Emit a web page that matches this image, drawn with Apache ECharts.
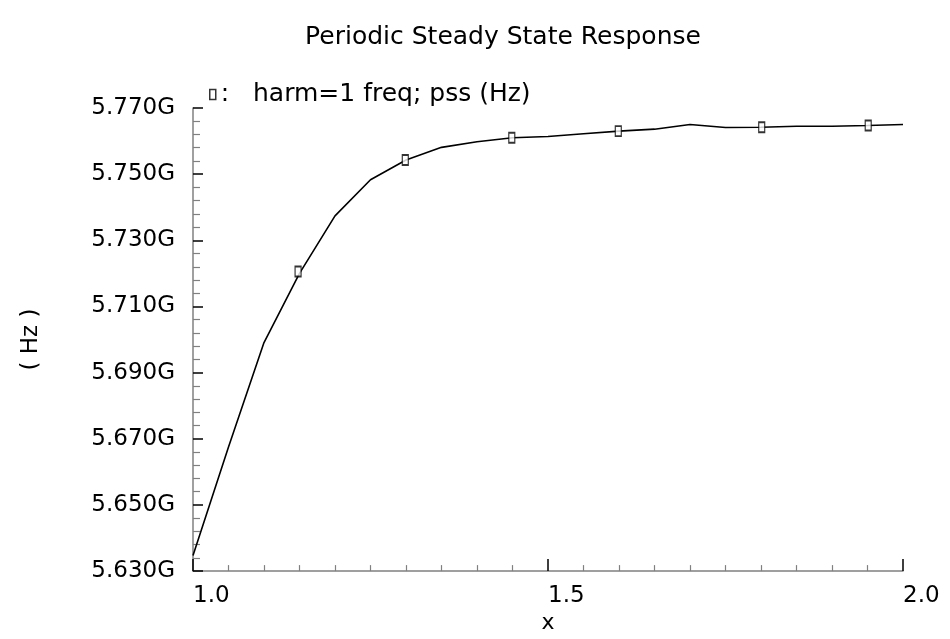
<!DOCTYPE html>
<html>
<head>
<meta charset="utf-8">
<script src="https://cdn.jsdelivr.net/npm/echarts@6/dist/echarts.min.js"></script>
<style>html,body{margin:0;padding:0;background:#fff;}#c{width:950px;height:639px;}</style>
</head>
<body>
<div id="c"></div>
<script>
// Curve samples (x, frequency in GHz)
const xValues = [1.00,1.05,1.10,1.15,1.20,1.25,1.30,1.35,1.40,1.45,1.50,1.55,1.60,1.65,1.70,1.75,1.80,1.85,1.90,1.95,2.00];
const freqGHz = [5.6347,5.6675,5.6991,5.7200,5.7374,5.7483,5.7543,5.7581,5.7598,5.7610,5.7614,5.7622,5.7630,5.7636,5.7650,5.7641,5.7642,5.7645,5.7645,5.7647,5.7650];
// Marker points
const markerX = [1.148,1.299,1.449,1.599,1.801,1.951];
const markerGHz = [5.7206,5.7543,5.7610,5.7630,5.7642,5.7647];
// Axis ticks
const yMajorTicks = [5.63,5.65,5.67,5.69,5.71,5.73,5.75,5.77];
const xTickLabels = [1.0,1.5,2.0];
const seriesName = 'harm=1 freq; pss (Hz)';
const titleText = 'Periodic Steady State Response';

const yMinorTicks = [];
for (let i = 0; i < yMajorTicks.length - 1; i++) {
  for (let k = 1; k < 5; k++) yMinorTicks.push(+(yMajorTicks[i] + k * 0.004).toFixed(4));
}

const FONT = 'DejaVu Sans';
const chart = echarts.init(document.getElementById('c'), null, {renderer: 'canvas'});
chart.setOption({
  backgroundColor: '#ffffff',
  animation: false,
  title: {
    text: titleText,
    left: 498,
    textAlign: 'center',
    top: 20,
    textStyle: {fontFamily: FONT, fontSize: 25, fontWeight: 'normal', color: '#000'}
  },
  legend: {
    left: 204,
    top: 77,
    itemWidth: 6,
    itemHeight: 10,
    data: [{name: seriesName, icon: 'rect', itemStyle: {color: '#fff', borderColor: '#000', borderWidth: 1.5}}],
    formatter: n => ':   ' + n,
    textStyle: {fontFamily: FONT, fontSize: 25, color: '#000'}
  },
  grid: {left: 193, right: 47, top: 108, bottom: 58, containLabel: false},
  xAxis: {
    type: 'value',
    min: 1, max: 2, interval: 0.5,
    name: 'x',
    nameLocation: 'middle',
    nameGap: 37,
    nameTextStyle: {fontFamily: FONT, fontSize: 22, color: '#000'},
    axisLine: {show: true, lineStyle: {color: '#808080', width: 1.5}},
    axisTick: {show: true, inside: true, length: 12, customValues: xTickLabels, lineStyle: {color: '#000', width: 1.5}},
    minorTick: {show: true, splitNumber: 10, length: 6, lineStyle: {color: '#808080', width: 1.2}},
    axisLabel: {
      customValues: xTickLabels,
      formatter: v => v.toFixed(1), align: 'left', margin: 13,
      fontFamily: FONT, fontSize: 23, color: '#000'
    },
    splitLine: {show: false}
  },
  yAxis: [{
    type: 'value',
    min: 5.63, max: 5.77,
    name: '( Hz )',
    nameLocation: 'middle',
    nameRotate: 90,
    nameGap: 150,
    nameTextStyle: {fontFamily: FONT, fontSize: 23, color: '#000'},
    axisLine: {show: true, lineStyle: {color: '#808080', width: 1.5}},
    axisTick: {show: true, inside: true, length: 10, customValues: yMajorTicks, lineStyle: {color: '#000', width: 1.5}},
    axisLabel: {
      customValues: yMajorTicks,
      formatter: v => v.toFixed(3) + 'G',
      margin: 18, padding: [0, 0, 16, 0],
      fontFamily: FONT, fontSize: 23, color: '#000'
    },
    splitLine: {show: false}
  }, {
    type: 'value',
    position: 'left',
    min: 5.63, max: 5.77,
    axisLine: {show: false},
    axisTick: {show: true, inside: true, length: 7, customValues: yMinorTicks, lineStyle: {color: '#808080', width: 1.2}},
    axisLabel: {show: false},
    splitLine: {show: false}
  }],
  series: [{
    name: 'curve',
    type: 'line',
    yAxisIndex: 0,
    data: xValues.map((x, i) => [x, freqGHz[i]]),
    showSymbol: false,
    symbol: 'none',
    lineStyle: {color: '#000', width: 1.6},
    silent: true
  }, {
    name: seriesName,
    type: 'scatter',
    yAxisIndex: 0,
    data: markerX.map((x, i) => [x, markerGHz[i]]),
    symbol: 'rect',
    symbolSize: [6, 10],
    itemStyle: {color: '#fff', borderColor: '#000', borderWidth: 1.5},
    z: 5
  }]
});
</script>
</body>
</html>
